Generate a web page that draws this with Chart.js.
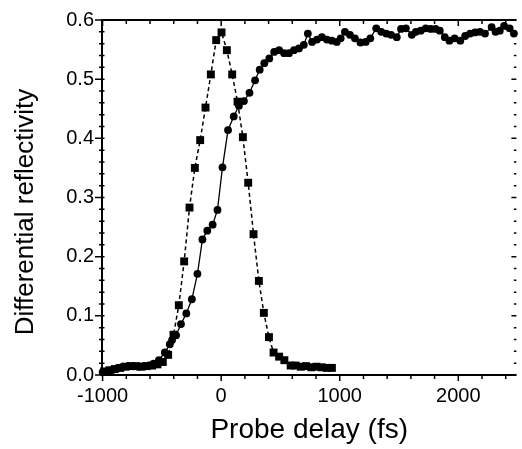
<!DOCTYPE html>
<html>
<head>
<meta charset="utf-8">
<title>Differential reflectivity</title>
<script src="https://cdn.jsdelivr.net/npm/chart.js@4.4.0/dist/chart.umd.min.js"></script>
<style>
    html, body { margin: 0; padding: 0; background: #fff; }
    #chart { display: block; }
</style>
</head>
<body>
<canvas id="chart" width="522" height="449"></canvas>
<script>
// Squares (dashed line)
const squareDelay = [-987, -942, -897, -852, -807, -762, -717, -672, -627, -582, -537, -492, -447, -402,
    -357, -312, -267, -222, -177, -132, -87, -42, 3, 48, 93, 138, 183, 228, 273, 318, 360,
    403, 442, 489, 533, 586, 628, 672, 716, 760, 804, 848, 892, 934];
const squareSignal = [0.006, 0.008, 0.010, 0.012, 0.014, 0.015, 0.015, 0.014, 0.015, 0.016, 0.018, 0.022, 0.034, 0.068,
    0.118, 0.192, 0.283, 0.350, 0.397, 0.452, 0.508, 0.566, 0.579, 0.549, 0.508, 0.462, 0.402, 0.325, 0.238, 0.159, 0.105,
    0.064, 0.038, 0.031, 0.025, 0.016, 0.016, 0.014, 0.015, 0.013, 0.014, 0.013, 0.012, 0.012];

// Circles (solid line)
const circleDelay = [-1000, -957, -914, -871, -828, -785, -742, -699, -656, -613, -570, -525, -475, -433, -414, -380,
    -339, -294, -247, -200, -158, -117, -72, -31, 11, 58, 106, 150, 192, 239, 286, 325, 364, 406, 447,
    489, 531, 572, 614, 656, 697, 731, 767, 808, 850, 892, 933, 975, 1008, 1044, 1086, 1128, 1175, 1219,
    1258, 1308, 1350, 1392, 1433, 1481, 1517, 1558, 1608, 1642, 1683, 1725, 1767, 1808, 1844, 1886, 1925,
    1969, 2017, 2058, 2100, 2142, 2183, 2225, 2281, 2314, 2350, 2386, 2433, 2469];
const circleSignal = [0.005, 0.007, 0.009, 0.012, 0.014, 0.015, 0.015, 0.014, 0.015, 0.016, 0.019, 0.025, 0.038, 0.052, 0.059, 0.067,
    0.086, 0.104, 0.128, 0.171, 0.229, 0.244, 0.254, 0.279, 0.351, 0.414, 0.437, 0.455, 0.463, 0.477, 0.498, 0.516, 0.527, 0.535, 0.546,
    0.549, 0.544, 0.544, 0.549, 0.552, 0.558, 0.577, 0.563, 0.567, 0.571, 0.567, 0.565, 0.563, 0.569, 0.580, 0.575, 0.569, 0.562, 0.563,
    0.569, 0.586, 0.580, 0.577, 0.575, 0.571, 0.585, 0.586, 0.575, 0.580, 0.582, 0.586, 0.585, 0.585, 0.582, 0.571, 0.565,
    0.569, 0.565, 0.573, 0.577, 0.579, 0.580, 0.577, 0.588, 0.580, 0.582, 0.590, 0.586, 0.577];

// Axis ticks
const xTicks = [-1000, 0, 1000, 2000];
const yTicks = [0, 0.1, 0.2, 0.3, 0.4, 0.5, 0.6];
const xMinorStep = 200;
const yMinorStep = 0.02;

const FONT = "'Liberation Sans', Arial, Helvetica, sans-serif";

function toPoints(xs, ys) {
    return xs.map((x, i) => ({ x: x, y: ys[i] }));
}

// Draws the frame, the tick marks and both axis titles
const framePlugin = {
    id: 'frame',
    afterDatasetsDraw(chart) {
        const ctx = chart.ctx;
        const { left, right, top, bottom } = chart.chartArea;
        const xs = chart.scales.x;
        const ys = chart.scales.y;

        ctx.save();
        ctx.strokeStyle = '#000';
        ctx.lineCap = 'butt';

        // spines (right spine falls outside the picture)
        ctx.lineWidth = 2;
        ctx.beginPath();
        ctx.moveTo(left, top);
        ctx.lineTo(right, top);
        ctx.moveTo(left, top - 1);
        ctx.lineTo(left, bottom + 1);
        ctx.moveTo(left, bottom);
        ctx.lineTo(right, bottom);
        ctx.stroke();

        ctx.lineWidth = 1.5;
        ctx.beginPath();
        for (let v = -1000; v <= xs.max; v += xMinorStep) {
            const px = xs.getPixelForValue(v);
            const major = xTicks.includes(v);
            const len = major ? 6 : 4;
            // bottom: outward
            ctx.moveTo(px, bottom);
            ctx.lineTo(px, bottom + len);
            // top: inward
            ctx.moveTo(px, top);
            ctx.lineTo(px, top + len);
        }
        for (let i = 0; i <= 30; i++) {
            const v = i * yMinorStep;
            const py = ys.getPixelForValue(v);
            const major = i % 5 === 0;
            // left: crossing the spine
            ctx.moveTo(left - (major ? 7 : 3), py);
            ctx.lineTo(left + 2.5, py);
            // right: inward
            ctx.moveTo(right, py);
            ctx.lineTo(right - (major ? 5 : 2.5), py);
        }
        ctx.stroke();

        // axis titles
        ctx.fillStyle = '#000';
        ctx.textAlign = 'center';
        ctx.textBaseline = 'alphabetic';
        ctx.font = '28px ' + FONT;
        ctx.fillText('Probe delay (fs)', (left + right) / 2, 438);

        ctx.translate(33, 212);
        ctx.rotate(-Math.PI / 2);
        ctx.font = '26px ' + FONT;
        ctx.fillText('Differential reflectivity', 0, 0);
        ctx.restore();
    }
};

const chart = new Chart(document.getElementById('chart').getContext('2d'), {
    type: 'scatter',
    data: {
        datasets: [{
            label: 'squares',
            data: toPoints(squareDelay, squareSignal),
            showLine: true,
            borderColor: '#000',
            borderWidth: 1.5,
            borderDash: [4, 3],
            backgroundColor: '#000',
            pointStyle: 'rect',
            pointRadius: 5.6,
            pointBorderWidth: 0,
            pointBackgroundColor: '#000',
            tension: 0
        }, {
            label: 'circles',
            data: toPoints(circleDelay, circleSignal),
            showLine: true,
            borderColor: '#000',
            borderWidth: 1.3,
            backgroundColor: '#000',
            pointStyle: 'circle',
            pointRadius: 3.9,
            pointBorderWidth: 0,
            pointBackgroundColor: '#000',
            tension: 0
        }]
    },
    options: {
        responsive: false,
        animation: false,
        devicePixelRatio: 1,
        clip: false,
        layout: { padding: { left: 0, top: 19, right: 0, bottom: 0 } },
        plugins: {
            legend: { display: false },
            tooltip: { enabled: false }
        },
        scales: {
            x: {
                type: 'linear',
                min: -1005,
                max: 2490,
                afterBuildTicks: s => { s.ticks = xTicks.map(v => ({ value: v })); },
                afterFit: s => { s.height = 74; },
                grid: { display: true, drawOnChartArea: false, drawTicks: false },
                border: { display: false },
                ticks: {
                    color: '#000',
                    font: { family: FONT, size: 20 },
                    padding: 9,
                    maxRotation: 0,
                    autoSkip: false,
                    callback: v => String(v)
                }
            },
            y: {
                type: 'linear',
                min: 0,
                max: 0.6,
                afterBuildTicks: s => { s.ticks = yTicks.map(v => ({ value: v })); },
                afterFit: s => { s.width = 102; },
                grid: { display: true, drawOnChartArea: false, drawTicks: false },
                border: { display: false },
                ticks: {
                    color: '#000',
                    font: { family: FONT, size: 20 },
                    padding: 8,
                    autoSkip: false,
                    callback: v => v.toFixed(1)
                }
            }
        }
    },
    plugins: [framePlugin]
});
</script>
</body>
</html>
